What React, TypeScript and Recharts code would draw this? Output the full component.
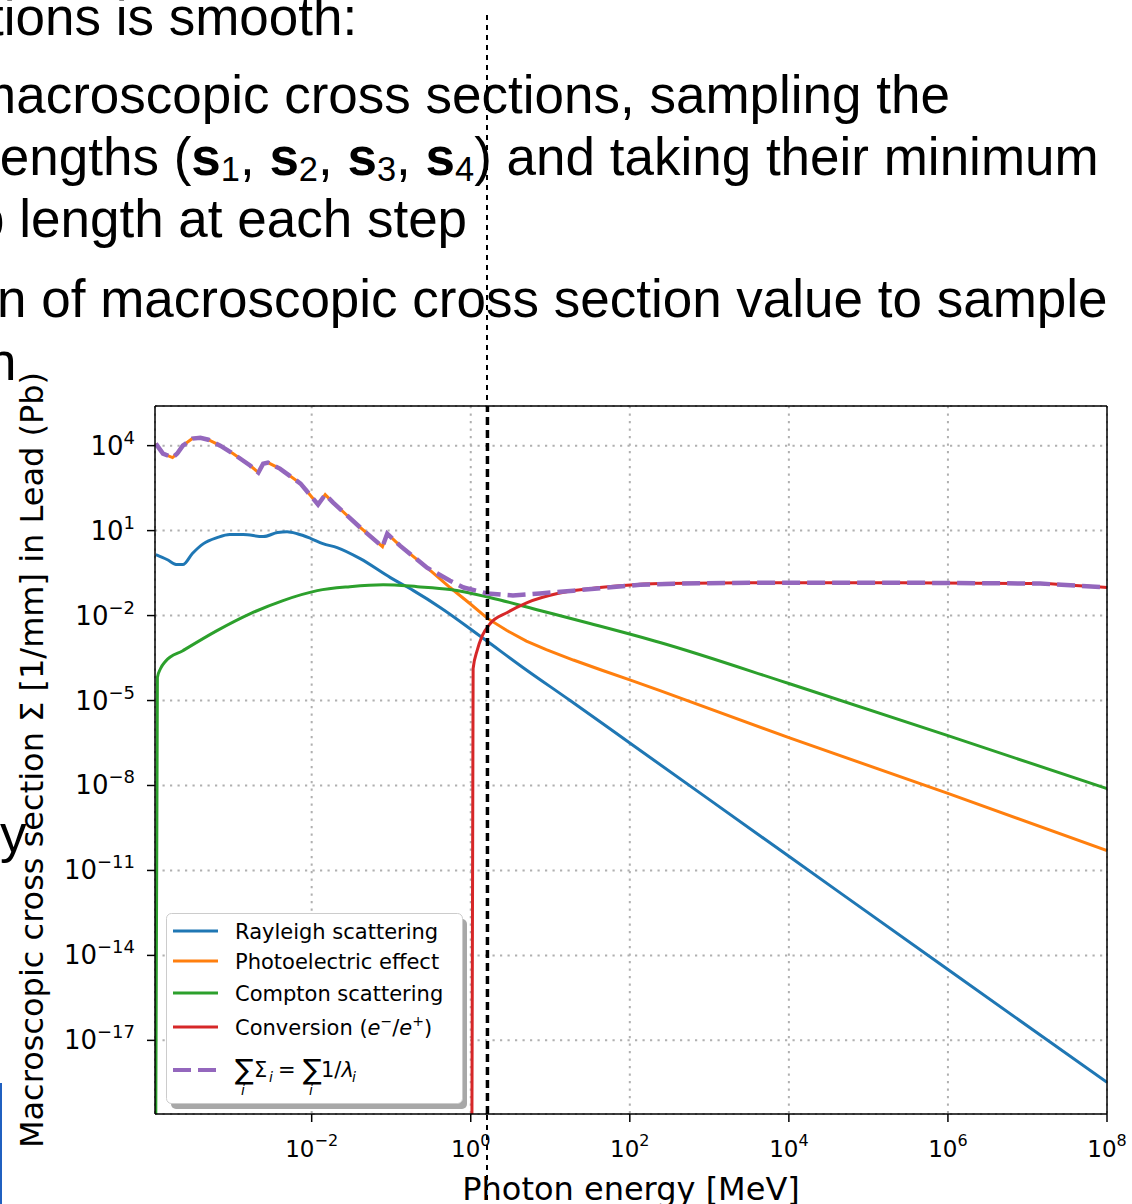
import React from 'react';
import {
  LineChart,
  Line,
  XAxis,
  YAxis,
  CartesianGrid,
  Legend,
  ReferenceLine,
} from 'recharts';

// all values are log10: e = log10(E / MeV), v = log10(Σ / mm^-1)
const rayleigh = [
  { e: -3.96, v: 0.15 }, { e: -3.82, v: -0.02 }, { e: -3.69, v: -0.2 }, { e: -3.62, v: -0.2 },
  { e: -3.5, v: 0.19 }, { e: -3.36, v: 0.54 }, { e: -3.19, v: 0.75 }, { e: -3.03, v: 0.86 },
  { e: -2.86, v: 0.86 }, { e: -2.61, v: 0.79 }, { e: -2.43, v: 0.93 }, { e: -2.31, v: 0.96 },
  { e: -2.18, v: 0.89 }, { e: -2.01, v: 0.72 }, { e: -1.86, v: 0.54 }, { e: -1.68, v: 0.4 },
  { e: -1.39, v: 0.01 }, { e: -1.01, v: -0.66 }, { e: -0.72, v: -1.12 }, { e: -0.38, v: -1.72 },
  { e: 0.16, v: -2.81 }, { e: 0.66, v: -3.84 }, { e: 1.25, v: -5.0 }, { e: 2, v: -6.5 },
  { e: 4, v: -10.5 }, { e: 6, v: -14.5 }, { e: 8, v: -18.48 },
];

const photoelectric = [
  { e: -3.96, v: 4.07 }, { e: -3.87, v: 3.72 }, { e: -3.75, v: 3.58 }, { e: -3.69, v: 3.72 },
  { e: -3.62, v: 4.0 }, { e: -3.5, v: 4.25 }, { e: -3.4, v: 4.28 }, { e: -3.3, v: 4.21 },
  { e: -3.15, v: 4.0 }, { e: -2.99, v: 3.72 }, { e: -2.77, v: 3.29 }, { e: -2.67, v: 3.05 },
  { e: -2.61, v: 3.36 }, { e: -2.55, v: 3.4 }, { e: -2.4, v: 3.19 }, { e: -2.14, v: 2.66 },
  { e: -1.92, v: 1.92 }, { e: -1.83, v: 2.27 }, { e: -1.73, v: 1.99 }, { e: -1.39, v: 1.11 },
  { e: -1.11, v: 0.43 }, { e: -1.05, v: 0.89 }, { e: -0.89, v: 0.47 }, { e: -0.55, v: -0.31 },
  { e: -0.26, v: -1.01 }, { e: 0.0, v: -1.6 }, { e: 0.21, v: -2.1 }, { e: 0.45, v: -2.52 },
  { e: 0.7, v: -2.9 }, { e: 0.95, v: -3.2 }, { e: 1.29, v: -3.57 }, { e: 1.65, v: -3.93 },
  { e: 2.0, v: -4.27 }, { e: 2.38, v: -4.65 }, { e: 4, v: -6.31 }, { e: 6, v: -8.28 },
  { e: 8, v: -10.3 },
];

const compton = [
  { e: -3.96, v: -19.6 }, { e: -3.94, v: -4.19 }, { e: -3.9, v: -3.87 }, { e: -3.84, v: -3.62 },
  { e: -3.62, v: -3.24 }, { e: -3.19, v: -2.53 }, { e: -2.77, v: -1.93 }, { e: -2.36, v: -1.47 },
  { e: -1.93, v: -1.12 }, { e: -1.52, v: -0.98 }, { e: -1.1, v: -0.91 }, { e: -0.67, v: -0.98 },
  { e: -0.26, v: -1.08 }, { e: 0.25, v: -1.37 }, { e: 0.87, v: -1.82 }, { e: 1.5, v: -2.28 },
  { e: 2.38, v: -2.95 }, { e: 4, v: -4.4 }, { e: 6, v: -6.24 }, { e: 8, v: -8.11 },
];

const conversion = [
  { e: 0.015, v: -19.6 }, { e: 0.03, v: -3.87 }, { e: 0.08, v: -3.24 }, { e: 0.145, v: -2.71 },
  { e: 0.245, v: -2.28 }, { e: 0.46, v: -1.89 }, { e: 0.71, v: -1.54 }, { e: 1.09, v: -1.22 },
  { e: 1.5, v: -1.05 }, { e: 1.92, v: -0.94 }, { e: 2.38, v: -0.87 }, { e: 3.52, v: -0.84 },
  { e: 5.4, v: -0.84 }, { e: 7.16, v: -0.87 }, { e: 7.6, v: -0.94 }, { e: 8, v: -1.01 },
];

const total = [
  { e: -3.96, v: 4.07 }, { e: -3.87, v: 3.72 }, { e: -3.75, v: 3.58 }, { e: -3.69, v: 3.72 },
  { e: -3.62, v: 4.0 }, { e: -3.5, v: 4.25 }, { e: -3.4, v: 4.28 }, { e: -3.3, v: 4.21 },
  { e: -3.15, v: 4.0 }, { e: -2.99, v: 3.72 }, { e: -2.77, v: 3.29 }, { e: -2.67, v: 3.05 },
  { e: -2.61, v: 3.36 }, { e: -2.55, v: 3.4 }, { e: -2.4, v: 3.19 }, { e: -2.14, v: 2.66 },
  { e: -1.92, v: 1.92 }, { e: -1.83, v: 2.27 }, { e: -1.73, v: 1.99 }, { e: -1.39, v: 1.11 },
  { e: -1.11, v: 0.43 }, { e: -1.05, v: 0.89 }, { e: -0.89, v: 0.47 }, { e: -0.55, v: -0.31 },
  { e: -0.26, v: -0.77 }, { e: -0.09, v: -1.01 }, { e: 0.21, v: -1.22 }, { e: 0.53, v: -1.29 },
  { e: 0.87, v: -1.22 }, { e: 1.29, v: -1.12 }, { e: 1.72, v: -1.01 }, { e: 2.13, v: -0.91 },
  { e: 2.64, v: -0.87 }, { e: 3.52, v: -0.84 }, { e: 5.4, v: -0.84 }, { e: 7.16, v: -0.87 },
  { e: 7.6, v: -0.94 }, { e: 8, v: -1.01 },
];

const xTicks = [-2, 0, 2, 4, 6, 8];
const yTicks = [4, 1, -2, -5, -8, -11, -14, -17];
const X_DOMAIN = [-3.97, 8];
const Y_DOMAIN = [-19.6, 5.4];
const DIVIDER_E = 0.21;

const SUM_NAME = 'sum';
const series = [
  { name: 'Rayleigh scattering', data: rayleigh, color: '#1f77b4', width: 3, dash: undefined, curve: 'monotoneX' },
  { name: 'Photoelectric effect', data: photoelectric, color: '#ff7f0e', width: 3, dash: undefined, curve: 'linear' },
  { name: 'Compton scattering', data: compton, color: '#2ca02c', width: 3, dash: undefined, curve: 'monotoneX' },
  { name: 'Conversion', data: conversion, color: '#d62728', width: 3, dash: undefined, curve: 'monotoneX' },
  { name: SUM_NAME, data: total, color: '#9467bd', width: 4.5, dash: '18 7', curve: 'linear' },
];
const seriesOrder = series.map((s) => s.name);

const FONT = '"DejaVu Sans", sans-serif';
const SLIDE_FONT = '"Liberation Sans", Arial, sans-serif';

const exp = (n: number) => (n < 0 ? `\u2212${-n}` : `${n}`);

function XTick({ x, y, payload }: any) {
  return (
    <text x={x} y={y + 33} textAnchor="middle" fontFamily={FONT} fontSize={23} fill="#000">
      10<tspan dy={-11} fontSize={16}>{exp(payload.value)}</tspan>
    </text>
  );
}

function YTick({ x, y, payload }: any) {
  return (
    <text x={x} y={y + 9} textAnchor="end" fontFamily={FONT} fontSize={26} fill="#000">
      10<tspan dy={-11} fontSize={18}>{exp(payload.value)}</tspan>
    </text>
  );
}

function XLabel({ viewBox }: any) {
  const cx = viewBox ? viewBox.x + viewBox.width / 2 : 631;
  return (
    <text x={cx} y={1200} textAnchor="middle" fontFamily={FONT} fontSize={32} fill="#000">
      Photon energy [MeV]
    </text>
  );
}

function YLabel({ viewBox }: any) {
  const cy = viewBox ? viewBox.y + viewBox.height / 2 : 760;
  return (
    <text x={43} y={cy} transform={`rotate(-90 43 ${cy})`} textAnchor="middle" fontFamily={FONT} fontSize={32} fill="#000">
      Macroscopic cross section Σ [1/mm] in Lead (Pb)
    </text>
  );
}

const ROW_Y = [18, 48, 80, 114, 157];

function LegendBox({ payload }: any) {
  const items = [...(payload || [])].sort(
    (a: any, b: any) => seriesOrder.indexOf(a.value) - seriesOrder.indexOf(b.value),
  );
  return (
    <svg width={304} height={198} style={{ display: 'block' }}>
      <rect x={5} y={6} width={296} height={190} rx={5} fill="#a8a8a8" />
      <rect x={0.5} y={0.5} width={296} height={190} rx={5} fill="#fff" stroke="#cccccc" />
      {items.map((p: any, i: number) => {
        const ry = ROW_Y[i];
        if (p.value === SUM_NAME) {
          return (
            <g key={i} fontFamily={FONT} fill="#000">
              <line x1={7} x2={52} y1={ry} y2={ry} stroke={p.color} strokeWidth={4} strokeDasharray="18 7" />
              <text x={69} y={ry + 9} fontSize={28}>∑</text>
              <text x={75} y={ry + 25} fontSize={14} fontStyle="italic">i</text>
              <text x={88} y={ry + 7} fontSize={21}>Σ</text>
              <text x={103} y={ry + 12} fontSize={14} fontStyle="italic">i</text>
              <text x={112} y={ry + 7} fontSize={21}>=</text>
              <text x={137} y={ry + 9} fontSize={28}>∑</text>
              <text x={143} y={ry + 25} fontSize={14} fontStyle="italic">i</text>
              <text x={155} y={ry + 7} fontSize={21}>
                1/<tspan fontStyle="italic">λ</tspan>
              </text>
              <text x={186} y={ry + 12} fontSize={14} fontStyle="italic">i</text>
            </g>
          );
        }
        return (
          <g key={i}>
            <line x1={7} x2={52} y1={ry} y2={ry} stroke={p.color} strokeWidth={3} />
            <text x={69} y={ry + 7.5} fontFamily={FONT} fontSize={21} fill="#000">
              {p.value === 'Conversion' ? (
                <>
                  Conversion (<tspan fontStyle="italic">e</tspan>
                  <tspan fontSize={14} dy={-9}>−</tspan>
                  <tspan dy={9}>/</tspan>
                  <tspan fontStyle="italic">e</tspan>
                  <tspan fontSize={14} dy={-9}>+</tspan>
                  <tspan dy={9}>)</tspan>
                </>
              ) : (
                p.value
              )}
            </text>
          </g>
        );
      })}
    </svg>
  );
}

function SlideText() {
  const line = (baseline: number, left: number, content: React.ReactNode) => (
    <div
      style={{
        position: 'absolute',
        top: baseline - 45,
        left,
        fontSize: 53,
        lineHeight: '53px',
        whiteSpace: 'nowrap',
        fontFamily: SLIDE_FONT,
        color: '#000',
      }}
    >
      {content}
    </div>
  );
  const s = (i: number) => (
    <>
      <b>s</b>
      <span style={{ fontSize: '0.65em', position: 'relative', top: '0.18em' }}>{i}</span>
    </>
  );
  return (
    <>
      {line(35, -11, 'tions is smooth:')}
      {line(113, -28, 'macroscopic cross sections, sampling the')}
      {line(175, -12, <>lengths ({s(1)}, {s(2)}, {s(3)}, {s(4)}) and taking their minimum</>)}
      {line(237, -25, 'p length at each step')}
      {line(317, -3, 'n of macroscopic cross section value to sample')}
      {line(380, -13, 'n')}
      {line(852, 0, 'y')}
      <div style={{ position: 'absolute', left: 0, top: 1083, width: 2, height: 121, background: '#2060c0' }} />
    </>
  );
}

export default function App() {
  return (
    <div style={{ position: 'absolute', left: 0, top: 0, width: 1132, height: 1204, overflow: 'hidden', background: '#fff' }}>
      <SlideText />
      <div style={{ position: 'absolute', left: 0, top: 0 }}>
        <LineChart width={1132} height={1204} margin={{ top: 406, right: 25, bottom: 0, left: 0 }}>
          <CartesianGrid stroke="#b0b0b0" strokeWidth={2} strokeDasharray="2.2 5.3" />
          <XAxis
            dataKey="e"
            type="number"
            domain={X_DOMAIN}
            allowDataOverflow
            ticks={xTicks}
            interval={0}
            height={90}
            tickSize={8}
            tickMargin={2}
            tick={<XTick />}
            tickLine={{ stroke: '#000', strokeWidth: 1.5 }}
            axisLine={{ stroke: '#000', strokeWidth: 1.5 }}
            label={<XLabel />}
          />
          <YAxis
            type="number"
            domain={Y_DOMAIN}
            allowDataOverflow
            ticks={yTicks}
            interval={0}
            width={155}
            tickSize={8}
            tickMargin={12}
            tick={<YTick />}
            tickLine={{ stroke: '#000', strokeWidth: 1.5 }}
            axisLine={{ stroke: '#000', strokeWidth: 1.5 }}
            label={<YLabel />}
          />
          {series.map((s) => (
            <Line
              key={s.name}
              data={s.data}
              dataKey="v"
              name={s.name}
              type={s.curve as any}
              stroke={s.color}
              strokeWidth={s.width}
              strokeDasharray={s.dash}
              dot={false}
              activeDot={false}
              isAnimationActive={false}
            />
          ))}
          <ReferenceLine x={DIVIDER_E} stroke="#000" strokeWidth={3.5} strokeDasharray="8 5" />
          <ReferenceLine y={Y_DOMAIN[1]} stroke="#000" strokeWidth={1.5} />
          <ReferenceLine x={X_DOMAIN[1]} stroke="#000" strokeWidth={1.5} />
          <Legend
            layout="vertical"
            verticalAlign="middle"
            align="center"
            content={<LegendBox />}
            wrapperStyle={{ left: 166, top: 913, width: 304, height: 198 }}
          />
        </LineChart>
      </div>
      <svg width={1132} height={1204} style={{ position: 'absolute', left: 0, top: 0, pointerEvents: 'none' }}>
        <line x1={487} x2={487} y1={15} y2={405} stroke="#000" strokeWidth={2} strokeDasharray="5 5" />
        <line x1={487} x2={487} y1={1115} y2={1204} stroke="#000" strokeWidth={2} strokeDasharray="5 5" />
      </svg>
    </div>
  );
}
